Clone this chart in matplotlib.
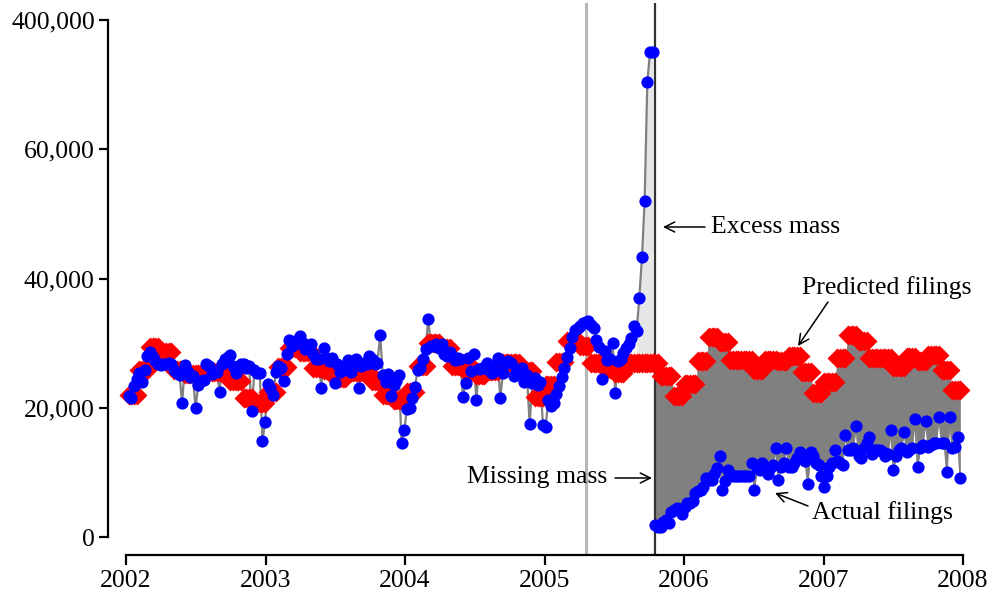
import numpy as np
import pandas as pd
import matplotlib
matplotlib.use("Agg")
import matplotlib.pyplot as plt

plt.rcParams["font.family"] = ["Liberation Serif", "DejaVu Serif"]

# Weekly bankruptcy filings (thousands), one list per calendar year
actual_2002 = [21.8, 21.5, 23.4, 24.5, 25.4, 24.0, 25.8, 28.0, 28.6, 27.8,
               27.2, 26.8, 26.6, 26.8, 26.7, 26.9, 26.8, 25.9, 25.3, 25.0,
               20.8, 26.6, 25.5, 24.8, 24.9, 20.0, 23.5, 24.2, 24.3, 26.8,
               26.5, 25.2, 25.7, 25.5, 22.5, 26.8, 27.5, 27.9, 28.2, 26.5,
               25.3, 26.0, 26.8, 26.8, 26.2, 26.5, 19.5, 25.8, 25.3, 25.3,
               14.9, 17.8]
actual_2003 = [23.7, 23.0, 22.0, 25.5, 26.5, 26.2, 24.2, 28.3, 30.5, 29.5,
               29.8, 30.5, 31.1, 30.0, 29.1, 29.4, 29.8, 28.3, 27.5, 27.5,
               23.1, 29.2, 27.7, 27.2, 27.7, 23.8, 26.8, 25.5, 25.8, 26.5,
               27.4, 25.5, 26.5, 27.5, 23.0, 26.5, 26.9, 26.8, 28.0, 27.5,
               26.8, 27.0, 31.3, 25.0, 24.0, 25.2, 21.8, 23.5, 24.2, 25.0,
               14.6, 16.5]
actual_2004 = [19.8, 20.0, 21.5, 23.2, 25.8, 26.2, 27.5, 29.1, 33.8, 29.5,
               29.5, 29.8, 29.2, 29.8, 28.3, 28.0, 28.6, 28.0, 27.4, 27.7,
               27.5, 21.7, 23.8, 27.7, 25.7, 28.3, 21.2, 26.0, 26.2, 26.2,
               26.9, 25.7, 25.4, 26.5, 27.7, 21.5, 25.4, 26.9, 27.2, 27.0,
               24.9, 25.4, 26.0, 26.2, 24.0, 25.0, 17.5, 23.8, 24.6, 23.5,
               24.0, 17.4]
actual_2005 = [17.0, 21.2, 20.3, 20.8, 22.2, 23.4, 24.8, 26.2, 27.8, 29.2,
               30.9, 32.0, 32.3, 32.6, 33.1, 33.3, 33.4, 32.8, 32.3, 30.5,
               29.4, 24.5, 28.8, 27.4, 27.6, 30.0, 22.3, 27.2, 27.6, 28.5,
               29.3, 29.9, 30.8, 32.6, 31.8, 37.0, 43.3, 52.0, 70.4, 75.0,
               75.0, 1.85, 1.5, 1.5, 2.3, 2.6, 2.15, 3.85, 4.15, 4.5,
               4.15, 3.5]
actual_2006 = [4.6, 5.2, 5.2, 5.5, 6.8, 7.1, 7.2, 7.8, 9.1, 8.8,
               8.8, 9.7, 10.6, 12.6, 7.2, 8.6, 10.3, 9.7, 9.4, 9.4,
               9.5, 9.5, 9.4, 9.4, 9.4, 11.5, 7.2, 10.6, 10.3, 11.4,
               10.9, 9.7, 10.6, 11.1, 13.7, 8.8, 10.8, 11.4, 13.8, 10.8,
               10.9, 11.4, 12.2, 13.1, 12.2, 11.8, 8.2, 13.2, 12.6, 11.5,
               11.1, 9.4]
actual_2007 = [7.8, 9.5, 10.8, 11.5, 13.4, 11.7, 11.5, 11.2, 15.8, 13.4,
               13.4, 13.7, 17.2, 12.6, 12.3, 13.8, 14.6, 15.4, 12.9, 13.4,
               13.5, 13.4, 13.1, 12.6, 12.9, 16.6, 10.3, 12.6, 13.4, 13.7,
               16.3, 13.1, 13.4, 13.8, 18.3, 10.8, 13.7, 14.2, 18.0, 14.0,
               14.3, 14.5, 14.6, 18.5, 14.6, 14.5, 10.0, 18.5, 13.7, 14.0,
               15.4, 9.2]

# Predicted filings (thousands per week), one value per month
pred_2002 = [22.0, 25.8, 29.4, 28.6, 25.8, 25.2, 25.2, 25.5, 25.5, 24.1, 21.5, 20.8]
pred_2003 = [22.5, 26.3, 29.2, 28.6, 26.1, 25.8, 24.6, 25.5, 25.5, 24.1, 22.0, 21.2]
pred_2004 = [22.5, 26.5, 30.0, 29.2, 26.5, 26.0, 25.0, 25.7, 27.0, 27.0, 25.7, 21.7]
pred_2005 = [23.5, 27.1, 30.3, 29.5, 27.0, 26.0, 25.4, 27.0, 27.0, 27.0, 24.9, 21.8]
pred_2006 = [23.6, 27.3, 31.0, 30.1, 27.4, 27.4, 25.8, 27.4, 27.2, 28.0, 25.5, 22.3]
pred_2007 = [24.0, 27.7, 31.3, 30.3, 27.7, 27.7, 26.3, 27.8, 27.2, 28.1, 25.8, 22.7]

first_week = "2002-01-08"
reform_signed = "2005-04-20"
reform_effective = "2005-10-17"
excess_from = "2005-08-30"

y_ticks = [0, 20000, 40000, 60000, 80000]
y_tick_labels = ["0", "20,000", "40,000", "60,000", "400,000"]
x_ticks = [2002, 2003, 2004, 2005, 2006, 2007, 2008]


def dec_year(ts):
    ts = pd.DatetimeIndex(ts)
    days = np.where(ts.is_leap_year, 366.0, 365.0)
    return ts.year + (ts.dayofyear - 1) / days


actual = 1000 * np.array(actual_2002 + actual_2003 + actual_2004
                         + actual_2005 + actual_2006 + actual_2007)
monthly_pred = 1000 * np.array(pred_2002 + pred_2003 + pred_2004
                               + pred_2005 + pred_2006 + pred_2007)

weeks = pd.date_range(first_week, periods=len(actual), freq="7D")
x = dec_year(weeks)
month_idx = (weeks.year - 2002) * 12 + weeks.month - 1
predicted = monthly_pred[month_idx]

cut = weeks < pd.Timestamp(reform_effective)
pre = np.where(cut)[0]
post = np.where(~cut)[0]
exc = np.where((weeks >= pd.Timestamp(excess_from)) & cut)[0]

fig = plt.figure(figsize=(9.92, 5.94), dpi=100)
ax = fig.add_axes([108 / 992, 39 / 594, (975 - 108) / 992, (591 - 39) / 594])

px_per_k = 6.4625
ax.set_ylim((537 - 555) / px_per_k * 1000, (537 - 3) / px_per_k * 1000)
ax.set_xlim(2002 + (108 - 126) / 139.5, 2002 + (975 - 126) / 139.5)

# shaded areas
ax.fill_between(x[post], predicted[post], actual[post], color="#808080",
                lw=0, zorder=1)
ax.fill_between(x[exc], predicted[exc], actual[exc],
                where=actual[exc] > predicted[exc], interpolate=True,
                color="#e6e6e6", lw=0, zorder=1)

# reform dates
ax.axvline(dec_year([reform_signed])[0], color="#b8b8b8", lw=2.2, zorder=1.5)
ax.axvline(dec_year([reform_effective])[0], color="#333333", lw=1.6, zorder=2.5)

# actual filings connecting line
ax.plot(x[pre], actual[pre], color="#808080", lw=1.6, zorder=2)
ax.plot(x[post], actual[post], color="#808080", lw=1.2, zorder=2)

# markers
ax.plot(x, predicted, ls="none", marker="D", ms=10.2, mfc="#ff0000",
        mec="none", zorder=3)
ax.plot(x, actual, ls="none", marker="o", ms=8.8, mfc="#0000ff",
        mec="none", zorder=4)

# axes styling
for s in ("top", "right"):
    ax.spines[s].set_visible(False)
ax.spines["left"].set_bounds(0, 80000)
ax.spines["bottom"].set_bounds(2002, 2008)
for s in ("left", "bottom"):
    ax.spines[s].set_linewidth(1.6)

ax.set_yticks(y_ticks)
ax.set_yticklabels(y_tick_labels)
ax.set_xticks(x_ticks)
ax.set_xticklabels([str(t) for t in x_ticks])
ax.tick_params(axis="y", length=6.5, width=1.6, pad=3, labelsize=18.5)
ax.tick_params(axis="x", length=7.5, width=1.6, pad=3, labelsize=18.5)


def px(xp, yp):
    return 2002 + (xp - 126) / 139.5, (537 - yp) / px_per_k * 1000


arrow = dict(arrowstyle="->", lw=1.1, color="black", mutation_scale=18,
             shrinkA=0, shrinkB=0)
fs = 18.5

ax.annotate("", xy=px(663, 227), xytext=px(705, 227), arrowprops=arrow)
ax.text(*px(711, 227), "Excess mass", fontsize=fs, va="center", ha="left")

ax.annotate("", xy=px(798, 346), xytext=px(828, 302), arrowprops=arrow)
ax.text(*px(887, 288), "Predicted filings", fontsize=fs, va="center", ha="center")

ax.annotate("", xy=px(652, 478), xytext=px(615, 478), arrowprops=arrow)
ax.text(*px(607, 477), "Missing mass", fontsize=fs, va="center", ha="right")

ax.annotate("", xy=px(775, 493), xytext=px(808, 506), arrowprops=arrow)
ax.text(*px(812, 513), "Actual filings", fontsize=fs, va="center", ha="left")

fig.savefig("out.png", dpi=100)
